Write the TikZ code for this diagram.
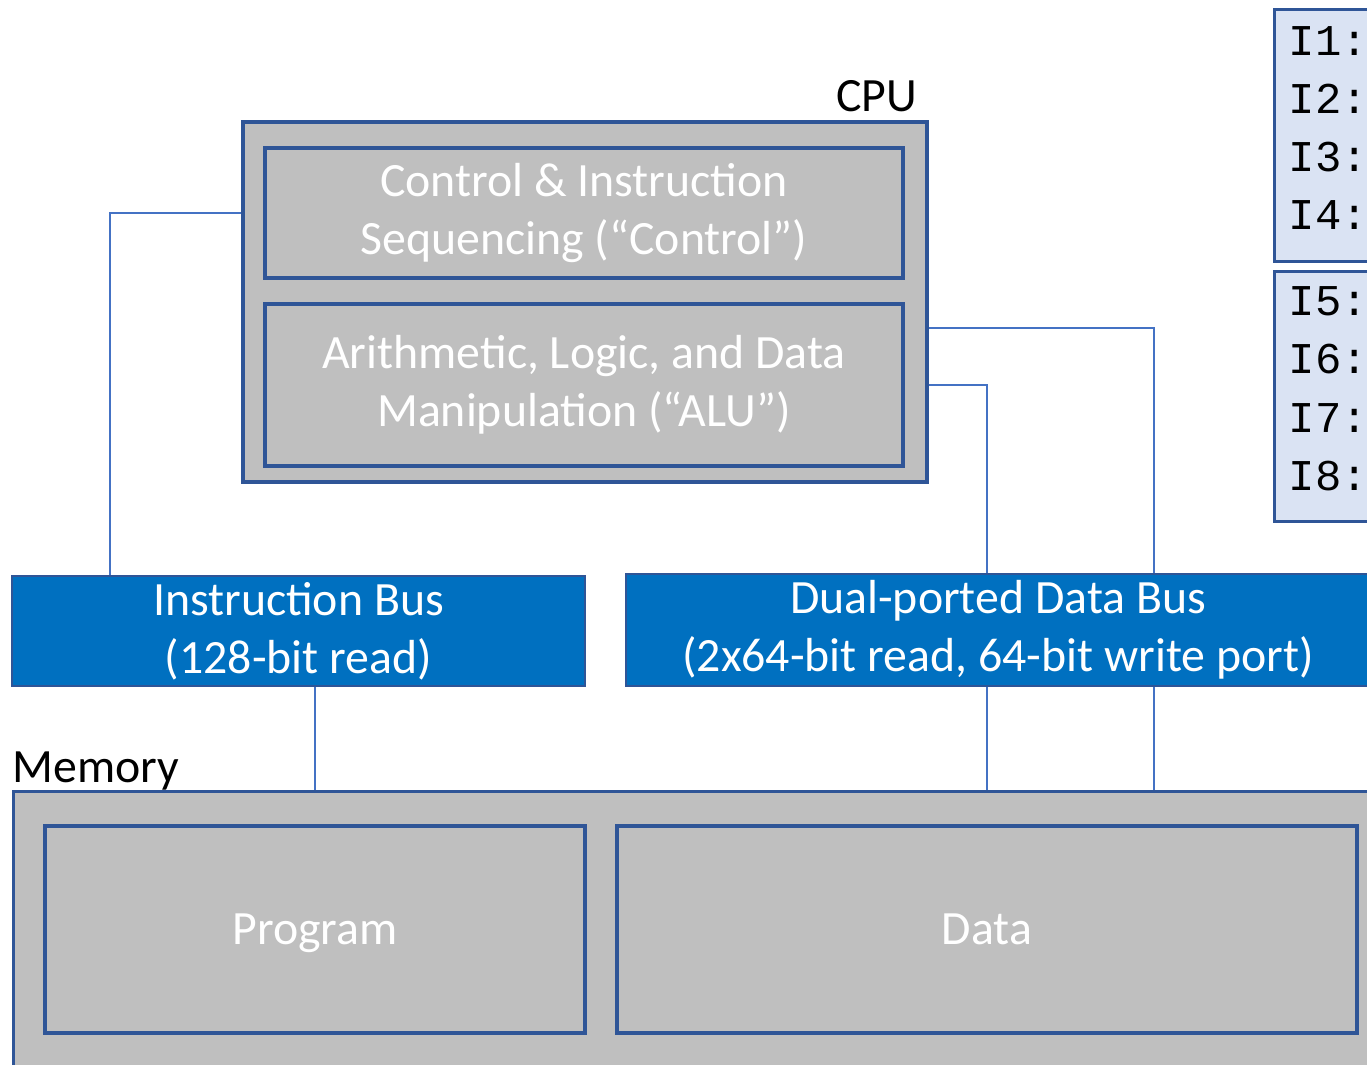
\documentclass[tikz,border=0pt]{standalone}
\usepackage{fontspec}
\setmainfont{Carlito}
\newfontfamily\codefont{Liberation Mono}
\usepackage{tikz}
\usetikzlibrary{positioning}
\definecolor{unitgray}{HTML}{BFBFBF}
\definecolor{edgeblue}{HTML}{2F5597}
\definecolor{linkblue}{HTML}{4472C4}
\definecolor{busblue}{HTML}{0070C0}
\definecolor{codeblue}{HTML}{DAE3F3}

\begin{document}
\begin{tikzpicture}[
    every node/.style={font=\fontsize{13.6}{16.5}\selectfont},
    unit/.style={rectangle, draw=edgeblue, line width=0.9pt, fill=unitgray, text=white, align=center, inner sep=0pt},
    bus/.style={rectangle, draw=edgeblue, line width=0.5pt, fill=busblue, text=white, align=center, inner sep=0pt},
    codebox/.style={rectangle, draw=edgeblue, line width=0.9pt, fill=codeblue, anchor=north west, minimum width=1.5cm, inner sep=0pt},
    link/.style={draw=linkblue, line width=0.75pt}
]
\useasboundingbox (0,0) rectangle (13.67,-10.65);
\clip (0,0) rectangle (13.67,-10.65);

% CPU
\node[unit, minimum width=6.84cm, minimum height=3.60cm] (cpu) at (5.85,-3.02) {};
\node[unit, minimum width=6.38cm, minimum height=1.30cm] (ctrl) at (5.84,-2.13) {Control \& Instruction\\Sequencing (“Control”)};
\node[unit, minimum width=6.38cm, minimum height=1.62cm] (alu) at (5.84,-3.85) {Arithmetic, Logic, and Data\\Manipulation (“ALU”)};
\node[anchor=base east, inner sep=0pt] (cpulabel) at (9.18,-1.11) {CPU};

% buses
\node[bus, minimum width=5.73cm, minimum height=1.10cm] (ibus) at (2.985,-6.31) {Instruction Bus\\(128-bit read)};
\node[bus, minimum width=7.44cm, minimum height=1.12cm] (dbus) at (9.98,-6.30) {Dual-ported Data Bus\\(2x64-bit read, 64-bit write port)};

% memory
\node[unit, anchor=north west, minimum width=13.80cm, minimum height=3.00cm] (mem) at (0.12,-7.90) {};
\node[anchor=base west, inner sep=0pt] (memlabel) at (0.12,-7.82) {Memory};
\node[unit, minimum width=5.40cm, minimum height=2.07cm, text depth=0pt] (prog) at (3.15,-9.295) {Program};
\node[unit, minimum width=7.40cm, minimum height=2.07cm, text depth=0pt] (data) at (9.87,-9.295) {Data};

% instruction listing
\node[codebox, minimum height=2.52cm] (code1) at (12.73,-0.08) {};
\node[codebox, minimum height=2.50cm] (code2) at (12.73,-2.70) {};
\foreach \n/\ypos in {1/-0.55, 2/-1.13, 3/-1.71, 4/-2.29, 5/-3.15, 6/-3.73, 7/-4.32, 8/-4.90} {
    \node[anchor=base west, inner sep=0pt, font=\codefont\fontsize{12.5}{12.5}\selectfont] (i\n) at (12.88,\ypos) {I\n:};
}

% connectors
\draw[link] (cpu.west |- ctrl) -| ([xshift=9.9mm]ibus.north west);
\draw[link] (prog.north |- ibus.south) -- (prog.north |- mem.north);
\draw[link] ([yshift=-2.6mm]cpu.east) -| ([xshift=1.67cm]data.north |- dbus.north);
\draw[link] (cpu.east |- alu) -| (data.north |- dbus.north);
\draw[link] (data.north |- dbus.south) -- (data.north |- mem.north);
\draw[link] ([xshift=1.67cm]data.north |- dbus.south) -- ([xshift=1.67cm]data.north |- mem.north);

\end{tikzpicture}
\end{document}
